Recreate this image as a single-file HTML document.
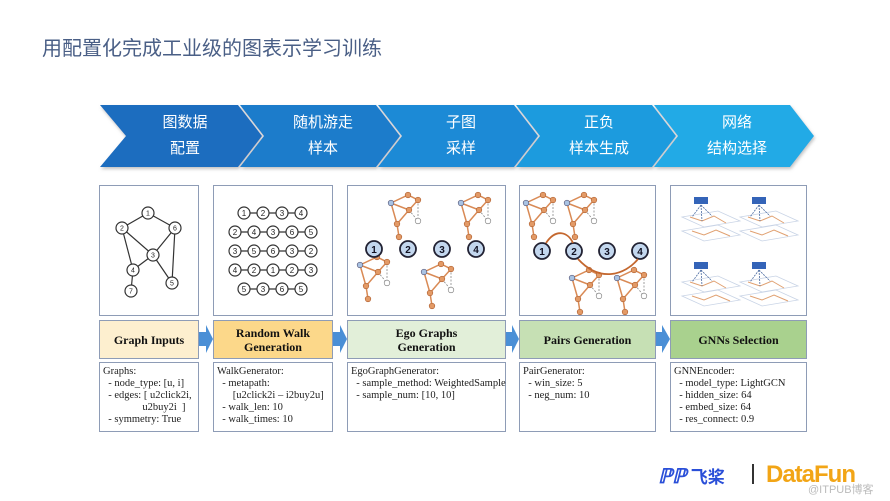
<!DOCTYPE html>
<html><head><meta charset="utf-8"><style>
body{margin:0;width:890px;height:501px;background:#fff;position:relative;overflow:hidden;font-family:"Liberation Serif",serif}
.t{position:absolute;left:42px;top:32px;font:20px "Liberation Sans","Noto Sans CJK SC",sans-serif;color:#4a5f86}
.box{position:absolute;border:1.5px solid #8e9cb6;box-sizing:border-box;background:#fff}
.hd{position:absolute;border:1.5px solid #8e9cb6;box-sizing:border-box;display:flex;align-items:center;justify-content:center;text-align:center;font-weight:bold;font-size:12px;line-height:14px;color:#111}
.ds{position:absolute;border:1.5px solid #8e9cb6;box-sizing:border-box;font-size:10.5px;line-height:12px;padding:3px 3px;color:#222;white-space:pre}
.cv{position:absolute;color:#fff;font:15px "Liberation Sans","Noto Sans CJK SC",sans-serif;text-align:center;line-height:26px}
</style></head><body>
<div class="t">用配置化完成工业级的图表示学习训练</div>
<svg width="890" height="501" style="position:absolute;left:0;top:0">
<defs><filter id="sh"><feDropShadow dx="1" dy="2" stdDeviation="1.5" flood-color="#999" flood-opacity=".6"/></filter></defs>
<g filter="url(#sh)">
<polygon points="100,105 238,105 262,136 238,167 100,167 126,136" fill="#1a6dbf"/>
<polygon points="240,105 376,105 400,136 376,167 240,167 264,136" fill="#1a7ccb"/>
<polygon points="378,105 514,105 538,136 514,167 378,167 402,136" fill="#1b8ad6"/>
<polygon points="516,105 652,105 676,136 652,167 516,167 540,136" fill="#1e9bde"/>
<polygon points="654,105 790,105 814,136 790,167 654,167 678,136" fill="#22aae6"/>
</g>
<g fill="#4a8fd6">
<polygon points="198,332 206,332 206,325 213,339 206,353 206,346 198,346"/>
<polygon points="332,332 340,332 340,325 347,339 340,353 340,346 332,346"/>
<polygon points="505,332 512,332 512,325 519,339 512,353 512,346 505,346"/>
<polygon points="655,332 662,332 662,325 670,339 662,353 662,346 655,346"/>
</g>
</svg>
<div class="cv" style="left:130px;top:110px;width:110px">图数据<br>配置</div>
<div class="cv" style="left:268px;top:110px;width:110px">随机游走<br>样本</div>
<div class="cv" style="left:406px;top:110px;width:110px">子图<br>采样</div>
<div class="cv" style="left:544px;top:110px;width:110px">正负<br>样本生成</div>
<div class="cv" style="left:682px;top:110px;width:110px">网络<br>结构选择</div>

<div class="box" style="left:99px;top:185px;width:100px;height:131px"></div>
<div class="box" style="left:213px;top:185px;width:120px;height:131px"></div>
<div class="box" style="left:347px;top:185px;width:159px;height:131px"></div>
<div class="box" style="left:519px;top:185px;width:137px;height:131px"></div>
<div class="box" style="left:670px;top:185px;width:137px;height:131px"></div>

<svg width="890" height="501" style="position:absolute;left:0;top:0" font-family="Liberation Sans" font-size="7" text-anchor="middle">
<defs>
<g id="eg">
<path d="M0,0L17,-8L27,-3L18,7ZM0,0L6,21L8,34M18,7L6,21" stroke="#d98a55" stroke-width="1.5" fill="none"/>
<path d="M27,-3L27,18M18,7L27,18" stroke="#888" stroke-width="0.8" stroke-dasharray="2,1.5" fill="none"/>
<g stroke="#b06030" stroke-width=".6" fill="#e39a66"><circle cx="17" cy="-8" r="2.8"/><circle cx="27" cy="-3" r="2.8"/><circle cx="18" cy="7" r="2.8"/><circle cx="6" cy="21" r="2.8"/><circle cx="8" cy="34" r="2.8"/></g>
<circle cx="0" cy="0" r="2.8" fill="#a9c3e3" stroke="#557" stroke-width=".6"/>
<circle cx="27" cy="18" r="2.8" fill="#fff" stroke="#777" stroke-width=".6"/>
</g>
<g id="gn">
<polygon points="0,20 36,14 58,24 22,30" fill="none" stroke="#c9d4e6" stroke-width=".8"/>
<polygon points="0,34 36,28 58,38 22,44" fill="none" stroke="#c9d4e6" stroke-width=".8"/>
<path d="M8,20L20,24L32,19L44,26M10,34L22,38L34,33L48,39" stroke="#e0a070" stroke-width="1" fill="none"/>
<path d="M19,8L10,20M19,8L30,19M19,8L20,24" stroke="#4a6aa0" stroke-width=".8" stroke-dasharray="2,1" fill="none"/>
<rect x="12" y="0" width="14" height="7" fill="#3464b8"/>
</g>
</defs>
<g stroke="#333" stroke-width="1.2" fill="none">
<path d="M148,213L122,228M148,213L175,228M122,228L153,255M122,228L133,270M175,228L153,255M175,228L172,283M153,255L133,270M153,255L172,283M133,270L131,291"/>
</g>
<g fill="#fff" stroke="#333" stroke-width="1.2">
<circle cx="148" cy="213" r="6"/><circle cx="122" cy="228" r="6"/><circle cx="175" cy="228" r="6"/><circle cx="153" cy="255" r="6"/><circle cx="133" cy="270" r="6"/><circle cx="172" cy="283" r="6"/><circle cx="131" cy="291" r="6"/>
</g>
<g fill="#222"><text x="148" y="215.5">1</text><text x="122" y="230.5">2</text><text x="175" y="230.5">6</text><text x="153" y="257.5">3</text><text x="133" y="272.5">4</text><text x="172" y="285.5">5</text><text x="131" y="293.5">7</text></g>
<g stroke="#333" stroke-width="1.2"><line x1="244" y1="213" x2="300" y2="213"/><line x1="235" y1="232" x2="310" y2="232"/><line x1="235" y1="251" x2="310" y2="251"/><line x1="235" y1="270" x2="310" y2="270"/><line x1="244" y1="289" x2="300" y2="289"/></g>
<g fill="#fff" stroke="#333" stroke-width="1.2">
<circle cx="244" cy="213" r="6"/><circle cx="263" cy="213" r="6"/><circle cx="282" cy="213" r="6"/><circle cx="301" cy="213" r="6"/>
<circle cx="235" cy="232" r="6"/><circle cx="254" cy="232" r="6"/><circle cx="273" cy="232" r="6"/><circle cx="292" cy="232" r="6"/><circle cx="311" cy="232" r="6"/>
<circle cx="235" cy="251" r="6"/><circle cx="254" cy="251" r="6"/><circle cx="273" cy="251" r="6"/><circle cx="292" cy="251" r="6"/><circle cx="311" cy="251" r="6"/>
<circle cx="235" cy="270" r="6"/><circle cx="254" cy="270" r="6"/><circle cx="273" cy="270" r="6"/><circle cx="292" cy="270" r="6"/><circle cx="311" cy="270" r="6"/>
<circle cx="244" cy="289" r="6"/><circle cx="263" cy="289" r="6"/><circle cx="282" cy="289" r="6"/><circle cx="301" cy="289" r="6"/>
</g>
<g fill="#222" font-size="8">
<text x="244" y="216">1</text><text x="263" y="216">2</text><text x="282" y="216">3</text><text x="301" y="216">4</text>
<text x="235" y="235">2</text><text x="254" y="235">4</text><text x="273" y="235">3</text><text x="292" y="235">6</text><text x="311" y="235">5</text>
<text x="235" y="254">3</text><text x="254" y="254">5</text><text x="273" y="254">6</text><text x="292" y="254">3</text><text x="311" y="254">2</text>
<text x="235" y="273">4</text><text x="254" y="273">2</text><text x="273" y="273">1</text><text x="292" y="273">2</text><text x="311" y="273">3</text>
<text x="244" y="292">5</text><text x="263" y="292">3</text><text x="282" y="292">6</text><text x="301" y="292">5</text>
</g>
<use href="#eg" x="391" y="203"/><use href="#eg" x="461" y="203"/><use href="#eg" x="360" y="265"/><use href="#eg" x="424" y="272"/>
<use href="#eg" x="526" y="203"/><use href="#eg" x="567" y="203"/><use href="#eg" x="572" y="278"/><use href="#eg" x="617" y="278"/>
<g fill="#c3d7ee" stroke="#223" stroke-width="1.8">
<circle cx="374" cy="249" r="8"/><circle cx="408" cy="249" r="8"/><circle cx="442" cy="249" r="8"/><circle cx="476" cy="249" r="8"/>
<circle cx="542" cy="251" r="8"/><circle cx="574" cy="251" r="8"/><circle cx="607" cy="251" r="8"/><circle cx="640" cy="251" r="8"/>
</g>
<g fill="#112" font-size="10" font-weight="bold"><text x="374" y="253">1</text><text x="408" y="253">2</text><text x="442" y="253">3</text><text x="476" y="253">4</text><text x="542" y="255">1</text><text x="574" y="255">2</text><text x="607" y="255">3</text><text x="640" y="255">4</text></g>
<path d="M546,243C556,228 568,232 573,243M578,259C600,283 625,275 638,259" stroke="#c4672e" stroke-width="1.8" fill="none"/>
<use href="#gn" x="682" y="197"/><use href="#gn" x="740" y="197"/><use href="#gn" x="682" y="262"/><use href="#gn" x="740" y="262"/>
</svg>

<div class="hd" style="left:99px;top:320px;width:100px;height:39px;background:#fdefcf">Graph Inputs</div>
<div class="hd" style="left:213px;top:320px;width:120px;height:39px;background:#fcd88a">Random Walk<br>Generation</div>
<div class="hd" style="left:347px;top:320px;width:159px;height:39px;background:#e2efd9">Ego Graphs<br>Generation</div>
<div class="hd" style="left:519px;top:320px;width:137px;height:39px;background:#c6e0b4">Pairs Generation</div>
<div class="hd" style="left:670px;top:320px;width:137px;height:39px;background:#a9d18e">GNNs Selection</div>

<div class="ds" style="left:99px;top:362px;width:100px;height:70px">Graphs:
  - node_type: [u, i]
  - edges: [ u2click2i,
               u2buy2i  ]
  - symmetry: True</div>
<div class="ds" style="left:213px;top:362px;width:120px;height:70px">WalkGenerator:
  - metapath:
      [u2click2i – i2buy2u]
  - walk_len: 10
  - walk_times: 10</div>
<div class="ds" style="left:347px;top:362px;width:159px;height:70px">EgoGraphGenerator:
  - sample_method: WeightedSample
  - sample_num: [10, 10]</div>
<div class="ds" style="left:519px;top:362px;width:137px;height:70px">PairGenerator:
  - win_size: 5
  - neg_num: 10</div>
<div class="ds" style="left:670px;top:362px;width:137px;height:70px">GNNEncoder:
  - model_type: LightGCN
  - hidden_size: 64
  - embed_size: 64
  - res_connect: 0.9</div>

<div style="position:absolute;left:658px;top:463px;font:italic bold 20px 'Liberation Sans',sans-serif;color:#2a4fd8">ℙℙ<span style="font:bold 17px 'Liberation Sans','Noto Sans CJK SC',sans-serif;font-style:normal"> 飞桨</span></div>
<div style="position:absolute;left:752px;top:464px;width:2px;height:20px;background:#333"></div>
<div style="position:absolute;left:766px;top:461px;font:bold 24px 'Liberation Sans',sans-serif;color:#f2a516;letter-spacing:-1px">DataFun</div>
<div style="position:absolute;left:808px;top:481px;font:11px 'Liberation Sans','Noto Sans CJK SC',sans-serif;color:#bbb">@ITPUB博客</div>
</body></html>
